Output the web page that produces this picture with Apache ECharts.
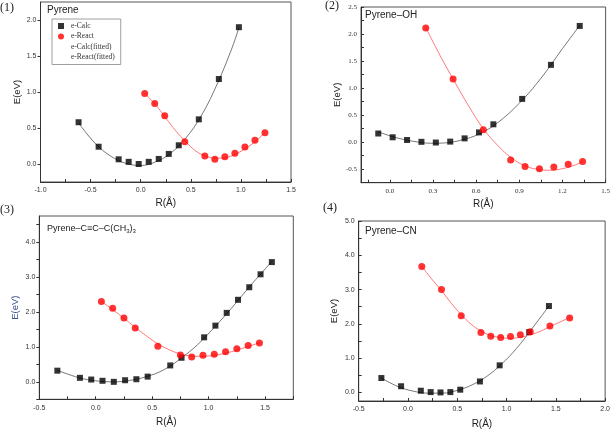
<!DOCTYPE html>
<html><head><meta charset="utf-8">
<script src="https://cdn.jsdelivr.net/npm/echarts@6/dist/echarts.min.js"></script>
<style>html,body{margin:0;padding:0;background:#fff}#c{width:613px;height:435px}</style>
</head><body><div id="c"></div>
<script>
// ---------- Panel (1) Pyrene ----------
var p1CalcX = [-0.62,-0.42,-0.22,-0.12,-0.02,0.08,0.18,0.28,0.38,0.58,0.78,0.98];
var p1CalcE = [0.58,0.24,0.065,0.03,0.0,0.03,0.07,0.14,0.26,0.62,1.18,1.90];
var p1ReactX = [0.04,0.14,0.24,0.44,0.64,0.74,0.84,0.94,1.04,1.14,1.24];
var p1ReactE = [0.98,0.84,0.67,0.31,0.11,0.065,0.10,0.15,0.235,0.33,0.435];
var p1CalcFitX = [-0.62,-0.45,-0.3,-0.15,0.0,0.15,0.3,0.45,0.6,0.75,0.9,0.98];
var p1CalcFitE = [0.57,0.28,0.11,0.01,-0.02,0.03,0.15,0.36,0.66,1.07,1.57,1.89];
var p1ReactFitX = [0.04,0.15,0.25,0.35,0.45,0.55,0.65,0.75,0.85,0.95,1.05,1.15,1.24];
var p1ReactFitE = [0.98,0.82,0.64,0.46,0.31,0.18,0.11,0.08,0.09,0.14,0.22,0.32,0.44];
var p1XTicks = [-1.0,-0.5,0.0,0.5,1.0,1.5];
var p1XMinor = [-1.0,-0.75,-0.5,-0.25,0.0,0.25,0.5,0.75,1.0,1.25,1.5];
var p1YTicks = [0.0,0.5,1.0,1.5,2.0];

// ---------- Panel (2) Pyrene-OH ----------
var p2CalcX = [-0.08,0.02,0.12,0.22,0.32,0.42,0.52,0.62,0.72,0.92,1.12,1.32];
var p2CalcE = [0.16,0.09,0.04,0.006,-0.007,0.01,0.07,0.18,0.33,0.80,1.43,2.15];
var p2ReactX = [0.25,0.44,0.65,0.84,0.94,1.04,1.14,1.24,1.34];
var p2ReactE = [2.11,1.17,0.23,-0.33,-0.45,-0.49,-0.46,-0.41,-0.36];
var p2CalcFitX = [-0.08,0.05,0.2,0.3,0.4,0.5,0.62,0.75,0.9,1.05,1.2,1.32];
var p2CalcFitE = [0.19,0.08,0.0,-0.02,-0.01,0.04,0.15,0.36,0.72,1.18,1.73,2.16];
var p2ReactFitX = [0.25,0.35,0.45,0.55,0.65,0.75,0.85,0.95,1.05,1.12,1.2,1.28,1.34];
var p2ReactFitE = [2.12,1.6,1.12,0.66,0.25,-0.06,-0.3,-0.45,-0.51,-0.52,-0.49,-0.43,-0.36];
var p2XTicks = [0.0,0.3,0.6,0.9,1.2,1.5];
var p2XMinor = [-0.15,0.0,0.15,0.3,0.45,0.6,0.75,0.9,1.05,1.2,1.35,1.5];
var p2YTicks = [-0.5,0.0,0.5,1.0,1.5,2.0,2.5];
var p2YMinor = [-0.75,-0.5,-0.25,0.0,0.25,0.5,0.75,1.0,1.25,1.5,1.75,2.0,2.25,2.5];

// ---------- Panel (3) Pyrene-C≡C-C(CH3)3 ----------
var p3CalcX = [-0.34,-0.14,-0.04,0.06,0.16,0.26,0.36,0.46,0.66,0.76,0.96,1.06,1.16,1.26,1.36,1.46,1.56];
var p3CalcE = [0.32,0.115,0.066,0.03,0.0,0.046,0.075,0.15,0.47,0.69,1.275,1.61,1.975,2.35,2.71,3.08,3.43];
var p3ReactX = [0.05,0.15,0.25,0.35,0.55,0.75,0.85,0.95,1.05,1.15,1.25,1.35,1.45];
var p3ReactE = [2.30,2.11,1.83,1.54,1.02,0.77,0.71,0.76,0.79,0.86,0.95,1.04,1.11];
var p3CalcFitX = [-0.34,-0.15,0.0,0.15,0.3,0.45,0.6,0.75,0.9,1.05,1.2,1.35,1.56];
var p3CalcFitE = [0.33,0.12,0.03,0.0,0.04,0.15,0.34,0.66,1.06,1.56,2.1,2.68,3.45];
var p3ReactFitX = [0.05,0.15,0.25,0.35,0.45,0.55,0.65,0.75,0.85,0.95,1.05,1.15,1.25,1.35,1.45];
var p3ReactFitE = [2.30,2.07,1.82,1.56,1.31,1.09,0.92,0.80,0.74,0.73,0.76,0.82,0.91,1.01,1.12];
var p3XTicks = [-0.5,0.0,0.5,1.0,1.5];
var p3XMinor = [-0.5,-0.25,0.0,0.25,0.5,0.75,1.0,1.25,1.5,1.75];
var p3YTicks = [0.0,1.0,2.0,3.0,4.0];
var p3YMinor = [-0.5,0.0,0.5,1.0,1.5,2.0,2.5,3.0,3.5,4.0,4.5];

// ---------- Panel (4) Pyrene-CN ----------
var p4CalcX = [-0.27,-0.07,0.13,0.23,0.33,0.43,0.53,0.73,0.93,1.23,1.43];
var p4CalcE = [0.42,0.18,0.05,0.01,0.0,0.01,0.08,0.32,0.79,1.76,2.52];
var p4ReactX = [0.14,0.34,0.54,0.74,0.84,0.94,1.04,1.14,1.24,1.44,1.64];
var p4ReactE = [3.67,3.0,2.24,1.75,1.64,1.60,1.63,1.68,1.77,1.94,2.17];
var p4CalcFitX = [-0.27,-0.1,0.05,0.2,0.35,0.5,0.65,0.8,0.95,1.1,1.25,1.43];
var p4CalcFitE = [0.42,0.17,0.04,-0.02,-0.02,0.06,0.22,0.47,0.83,1.28,1.83,2.52];
var p4ReactFitX = [0.14,0.24,0.34,0.44,0.54,0.64,0.74,0.84,0.94,1.04,1.14,1.24,1.34,1.44,1.54,1.64];
var p4ReactFitE = [3.68,3.31,2.97,2.60,2.27,1.99,1.79,1.66,1.60,1.58,1.61,1.68,1.78,1.92,2.05,2.19];
var p4XTicks = [-0.5,0.0,0.5,1.0,1.5,2.0];
var p4XMinor = [-0.5,-0.25,0.0,0.25,0.5,0.75,1.0,1.25,1.5,1.75,2.0];
var p4YTicks = [0.0,1.0,2.0,3.0,4.0,5.0];
var p4YMinor = [0.0,0.5,1.0,1.5,2.0,2.5,3.0,3.5,4.0,4.5,5.0];

var seriesNames = ['e-Calc','e-React','e-Calc(fitted)','e-React(fitted)'];
var panelTitles = ['Pyrene','Pyrene\u2013OH','Pyrene\u2013CN'];
var panelLabels = ['(1)','(2)','(3)','(4)'];

function zip(xs, ys){ return xs.map(function(x,i){ return [x, ys[i]]; }); }

var SANS = 'Liberation Sans, Arial, sans-serif';
var SERIF = 'Liberation Serif, Times New Roman, serif';

function xAx(i, min, max, labels, ticks, font, gap){
  return {type:'value', gridIndex:i, min:min, max:max,
    name:'R(\u00c5)', nameLocation:'middle', nameGap:gap,
    nameTextStyle:{fontSize:10, color:'#222', fontFamily:SANS},
    axisLine:{onZero:false, lineStyle:{color:'#333', width:1}},
    axisTick:{inside:true, length:3, customValues:ticks, lineStyle:{color:'#333'}},
    axisLabel:{customValues:labels, fontSize:7, color:'#333', fontFamily:font, margin:5,
      formatter:function(v){ return v.toFixed(1); }},
    splitLine:{show:false}};
}
function yAx(i, min, max, labels, ticks, font, inside, gap, nameColor){
  return {type:'value', gridIndex:i, min:min, max:max,
    name:'E(eV)', nameLocation:'middle', nameGap:gap,
    nameTextStyle:{fontSize:9.5, color:nameColor || '#222', fontFamily:SANS},
    axisLine:{onZero:false, lineStyle:{color:'#333', width:1}},
    axisTick:{inside:inside, length:3, customValues:ticks, lineStyle:{color:'#333'}},
    axisLabel:{customValues:labels, fontSize:7, color:'#333', fontFamily:font, margin:4,
      formatter:function(v){ return v.toFixed(1); }},
    splitLine:{show:false}};
}
function panelSeries(i, cx, ce, rx, re, cfx, cfe, rfx, rfe){
  return [
    {name:seriesNames[2], type:'line', xAxisIndex:i, yAxisIndex:i, data:zip(cfx,cfe), smooth:0.4,
      showSymbol:false, symbol:'none', lineStyle:{color:'#555', width:0.8}, z:2, silent:true},
    {name:seriesNames[3], type:'line', xAxisIndex:i, yAxisIndex:i, data:zip(rfx,rfe), smooth:0.4,
      showSymbol:false, symbol:'none', lineStyle:{color:'#ff5555', width:0.8}, z:2, silent:true},
    {name:seriesNames[0], type:'scatter', xAxisIndex:i, yAxisIndex:i, data:zip(cx,ce),
      symbol:'rect', symbolSize:6, itemStyle:{color:'#000'}, z:3},
    {name:seriesNames[1], type:'scatter', xAxisIndex:i, yAxisIndex:i, data:zip(rx,re),
      symbol:'circle', symbolSize:7, itemStyle:{color:'#ff0000'}, z:3}
  ];
}

var gridStyle = {show:true, borderColor:'#555', borderWidth:1, backgroundColor:'transparent'};
var option = {
  animation:false,
  backgroundColor:'#fff',
  grid:[
    Object.assign({left:40.5, top:2, width:250.5, height:180}, gridStyle),
    Object.assign({left:361, top:7, width:245, height:175.7}, gridStyle),
    Object.assign({left:39.3, top:216, width:254, height:183.3}, gridStyle),
    Object.assign({left:358.7, top:221, width:250.6, height:180}, gridStyle)
  ],
  xAxis:[
    xAx(0,-1.0,1.5,p1XTicks,p1XMinor,SANS,16),
    xAx(1,-0.2,1.5,p2XTicks,p2XMinor,SERIF,17),
    xAx(2,-0.5,1.75,p3XTicks,p3XMinor,SANS,18),
    xAx(3,-0.5,2.0,p4XTicks,p4XMinor,SANS,18)
  ],
  yAxis:[
    yAx(0,-0.25,2.25,p1YTicks,p1YTicks,SANS,false,7),
    yAx(1,-0.75,2.5,p2YTicks,p2YMinor,SERIF,true,6),
    yAx(2,-0.5,4.75,p3YTicks,p3YMinor,SANS,false,18.5,'#3a4f8f'),
    yAx(3,-0.25,5.0,p4YTicks,p4YMinor,SANS,true,19)
  ],
  title:[
    {text:panelTitles[0], left:47, top:5, padding:0, textStyle:{fontSize:10, fontWeight:'normal', color:'#222', fontFamily:SANS}},
    {text:panelTitles[1], left:365, top:10, padding:0, textStyle:{fontSize:10, fontWeight:'normal', color:'#222', fontFamily:SANS}},
    {text:'Pyrene\u2013C\u2261C\u2013C(CH{s|3}){s|3}', left:47, top:223, padding:0,
      textStyle:{fontSize:9, fontWeight:'normal', color:'#222', fontFamily:SANS,
        rich:{s:{fontSize:6, verticalAlign:'bottom', padding:[5,0,0,0], color:'#222', fontFamily:SANS}}}},
    {text:panelTitles[2], left:365, top:226, padding:0, textStyle:{fontSize:10, fontWeight:'normal', color:'#222', fontFamily:SANS}},
    {text:panelLabels[0], left:0, top:2, padding:0, textStyle:{fontSize:12, fontWeight:'normal', color:'#222', fontFamily:SERIF}},
    {text:panelLabels[1], left:325, top:0, padding:0, textStyle:{fontSize:12, fontWeight:'normal', color:'#222', fontFamily:SERIF}},
    {text:panelLabels[2], left:0, top:204, padding:0, textStyle:{fontSize:12, fontWeight:'normal', color:'#222', fontFamily:SERIF}},
    {text:panelLabels[3], left:323, top:202, padding:0, textStyle:{fontSize:12, fontWeight:'normal', color:'#222', fontFamily:SERIF}}
  ],
  legend:{
    orient:'vertical', left:52, top:19, itemWidth:6, itemHeight:6, itemGap:2.5,
    padding:[3,6,3,6], borderColor:'#888', borderWidth:0.8, backgroundColor:'#fff',
    textStyle:{fontSize:7.5, color:'#333', fontFamily:SERIF, padding:[0,0,0,2]},
    data:[
      {name:seriesNames[0], icon:'rect'},
      {name:seriesNames[1], icon:'circle'},
      {name:seriesNames[2], icon:'rect', itemStyle:{opacity:0}, lineStyle:{opacity:0}},
      {name:seriesNames[3], icon:'rect', itemStyle:{opacity:0}, lineStyle:{opacity:0}}
    ],
    selectedMode:false
  },
  series:[].concat(
    panelSeries(0,p1CalcX,p1CalcE,p1ReactX,p1ReactE,p1CalcFitX,p1CalcFitE,p1ReactFitX,p1ReactFitE),
    panelSeries(1,p2CalcX,p2CalcE,p2ReactX,p2ReactE,p2CalcFitX,p2CalcFitE,p2ReactFitX,p2ReactFitE),
    panelSeries(2,p3CalcX,p3CalcE,p3ReactX,p3ReactE,p3CalcFitX,p3CalcFitE,p3ReactFitX,p3ReactFitE),
    panelSeries(3,p4CalcX,p4CalcE,p4ReactX,p4ReactE,p4CalcFitX,p4CalcFitE,p4ReactFitX,p4ReactFitE)
  )
};
var chart = echarts.init(document.getElementById('c'), null, {renderer:'canvas'});
chart.setOption(option);
</script></body></html>
